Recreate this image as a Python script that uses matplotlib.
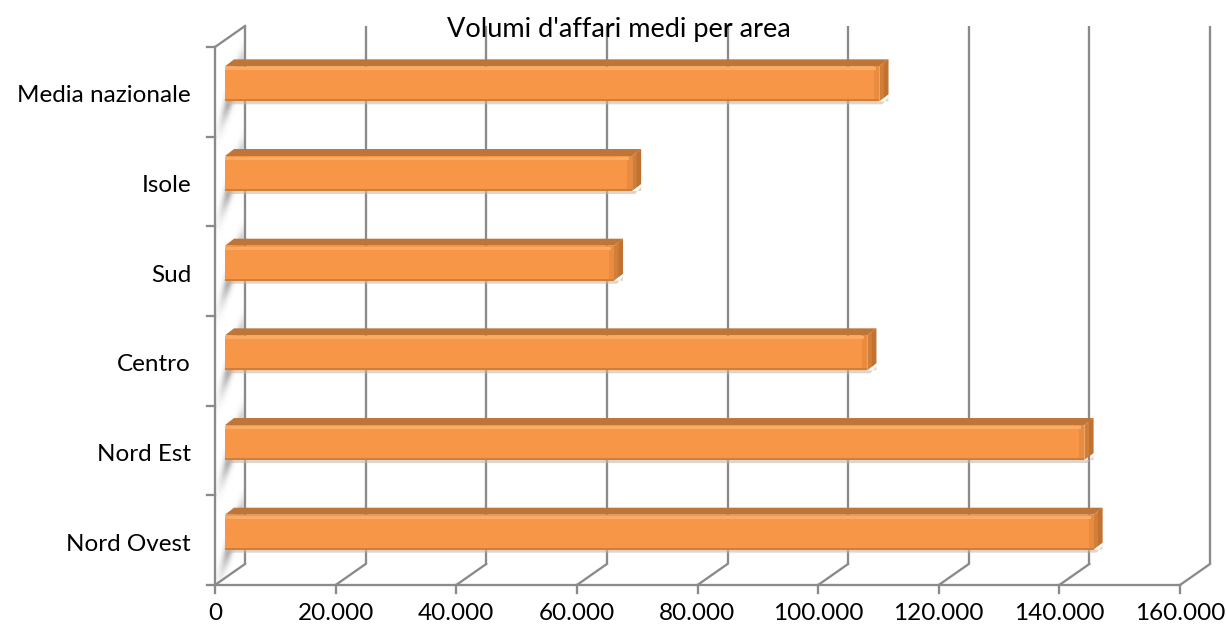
import numpy as np
import matplotlib
matplotlib.use("Agg")
import matplotlib.pyplot as plt
from matplotlib.patches import Polygon, FancyBboxPatch

# ---- data ----
categories = ["Nord Ovest", "Nord Est", "Centro", "Sud", "Isole", "Media nazionale"]
values = [144000, 142500, 106500, 64500, 67500, 108500]
xticks = [0, 20000, 40000, 60000, 80000, 100000, 120000, 140000, 160000]
xtick_labels = ["0", "20.000", "40.000", "60.000", "80.000", "100.000", "120.000", "140.000", "160.000"]
title = "Volumi d'affari medi per area"

W, H = 1226, 637
plt.rcParams['font.family'] = ['Lato', 'DejaVu Sans']
fig = plt.figure(figsize=(W / 100, H / 100), dpi=100)
fig.patch.set_facecolor("white")

# front plane axes (data)
ax = fig.add_axes([215 / W, 52 / H, 965 / W, 538 / H])
ax.set_xlim(0, 160000)
ax.set_ylim(-0.5, len(categories) - 0.5)
ax.axis("off")

# overlay in pixel coordinates
ov = fig.add_axes([0, 0, 1, 1], zorder=5)
ov.set_xlim(0, W)
ov.set_ylim(0, H)
ov.axis("off")
ov.patch.set_alpha(0)

def P(v, c, dx=0.0, dy=0.0):
    x, y = ax.transData.transform((v, c))
    return np.array([x + dx, y + dy])

BACK = (30, 21)
LC = "#8a8a8a"
LW = 2.3 * 72 / 100
ymin, ymax = -0.5, len(categories) - 0.5
xmax = xticks[-1]
FS = 17.5

# ---- left wall with shading ----
wall = [P(0, ymin), P(0, ymin, *BACK), P(0, ymax, *BACK), P(0, ymax)]
wall_poly = Polygon(wall, closed=True, facecolor="white", edgecolor="none", zorder=1)
ov.add_patch(wall_poly)
x0, x1 = wall[0][0], wall[1][0]
y0, y1 = wall[0][1], wall[2][1]
nx, ny = 60, 600
gx = np.linspace(x0, x1, nx)
gy = np.linspace(y0, y1, ny)
GX, GY = np.meshgrid(gx, gy)
alpha = np.zeros_like(GX)
for i in range(len(categories)):
    cx, cy = P(0, i, 18, 4)
    cxx = cx + 0.3 * (GY - cy)
    alpha += np.exp(-((GX - cxx) / 4.5) ** 2 - ((GY - cy) / 30.0) ** 2)
alpha = np.clip(alpha * 0.8, 0, 0.75)
img = np.zeros((ny, nx, 4))
img[..., :3] = 0.45
img[..., 3] = alpha
im = ov.imshow(img, extent=(x0, x1, y0, y1), origin="lower", zorder=1.5,
               interpolation="bilinear", aspect="auto")
im.set_clip_path(wall_poly)

# ---- grid / frame ----
for v, lab in zip(xticks, xtick_labels):
    b0 = P(v, ymin, *BACK)
    b1 = P(v, ymax, *BACK)
    ov.plot([b0[0], b1[0]], [b0[1], b1[1]], color=LC, lw=LW, zorder=2, solid_capstyle="butt")
    f0 = P(v, ymin)
    ov.plot([f0[0], b0[0]], [f0[1], b0[1]], color=LC, lw=LW, zorder=2)
    ov.plot([f0[0], f0[0]], [f0[1], f0[1] - 8], color=LC, lw=LW, zorder=2)
    ov.text(f0[0], f0[1] - 28, lab, ha="center", va="center",
            fontsize=FS, color="black", zorder=6)

a, b = P(0, ymin), P(xmax, ymin)
ov.plot([a[0], b[0]], [a[1], b[1]], color=LC, lw=LW, zorder=2)
a, b = P(0, ymin), P(0, ymax)
ov.plot([a[0], b[0]], [a[1], b[1]], color=LC, lw=LW, zorder=2)
a, b = P(0, ymax), P(0, ymax, *BACK)
ov.plot([a[0], b[0]], [a[1], b[1]], color=LC, lw=LW, zorder=2)
for k in range(len(categories) + 1):
    t = P(0, k - 0.5)
    ov.plot([t[0] - 8, t[0]], [t[1], t[1]], color=LC, lw=LW, zorder=2)

for i, c in enumerate(categories):
    t = P(0, i)
    ov.text(t[0] - 24, t[1] - 4, c, ha="right", va="center", fontsize=FS, color="black", zorder=6)

# ---- bars ----
BO = (10, 8)
hh = 0.39
D = (9, 7)
for i, v in enumerate(values):
    fl = P(0, i - hh / 2, *BO)
    fr = P(v, i + hh / 2, *BO)
    xL, yB = fl
    xR, yT = fr
    # shadow under bar
    ov.add_patch(Polygon([[xL + 2, yB - 3], [xR + 3, yB - 3], [xR + D[0], yB + D[1] - 3],
                          [xR + D[0], yB], [xL + 2, yB]], closed=True,
                         facecolor="#c9b8a8", edgecolor="none", alpha=0.6, zorder=3))
    # top face
    ov.add_patch(Polygon([[xL, yT], [xR, yT], [xR + D[0], yT + D[1]], [xL + D[0], yT + D[1]]],
                         closed=True, facecolor="#bf7537", edgecolor="none", zorder=3.2))
    # end face
    ov.add_patch(Polygon([[xR, yB], [xR + D[0], yB + D[1]], [xR + D[0], yT + D[1]], [xR, yT]],
                         closed=True, facecolor="#d07e38", edgecolor="none", zorder=3.2))
    ov.add_patch(Polygon([[xR + D[0] * 0.5, yB + D[1] * 0.5], [xR + D[0], yB + D[1]],
                          [xR + D[0], yT + D[1]], [xR + D[0] * 0.5, yT + D[1] * 0.5]],
                         closed=True, facecolor="#b86a2c", edgecolor="none", zorder=3.25, alpha=0.6))
    # front face
    ov.add_patch(FancyBboxPatch((xL, yB), xR - xL, yT - yB,
                                boxstyle="round,pad=0,rounding_size=2",
                                facecolor="#f79646", edgecolor="none", zorder=3.4))
    # highlight + bottom edge
    ov.add_patch(Polygon([[xL, yT - 1], [xR - 3, yT - 1], [xR - 3, yT - 4], [xL, yT - 4]],
                         closed=True, facecolor="#fbab64", edgecolor="none", zorder=3.5))
    ov.add_patch(Polygon([[xL, yB], [xR, yB], [xR, yB + 2], [xL, yB + 2]],
                         closed=True, facecolor="#cf7f3c", edgecolor="none", zorder=3.5))
    # right rounded edge shade on front face
    ov.add_patch(Polygon([[xR - 5, yB], [xR, yB], [xR, yT], [xR - 5, yT]],
                         closed=True, facecolor="#ea8c40", edgecolor="none", zorder=3.45))

# title (drawn above the grid lines)
fig.text(619 / W, 1 - 29 / H, title, ha="center", va="center", fontsize=19.5,
         color="black", zorder=20)

fig.savefig("out.png", dpi=100, facecolor="white")
